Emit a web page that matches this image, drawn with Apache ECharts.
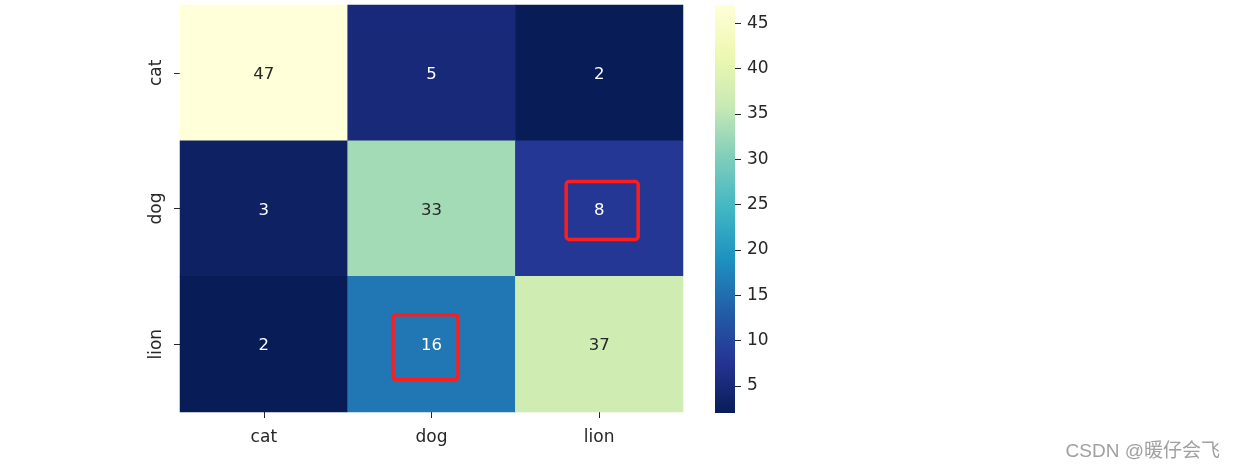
<!DOCTYPE html>
<html>
<head>
<meta charset="utf-8">
<script src="https://cdn.jsdelivr.net/npm/echarts@6/dist/echarts.min.js"></script>
<style>
html,body{margin:0;padding:0;background:#fff;}
#chart{width:1233px;height:468px;}
</style>
</head>
<body>
<div id="chart"></div>
<script>
// ---- data ----
const xCategories = ['cat', 'dog', 'lion'];
const yCategories = ['cat', 'dog', 'lion'];
const matrixRows = [
  [47, 5, 2],
  [3, 33, 8],
  [2, 16, 37]
];
const colorbarTicks = [5, 10, 15, 20, 25, 30, 35, 40, 45];
const valueMin = 2;
const valueMax = 47;
const highlightedCells = [['lion', 'dog'], ['dog', 'lion']]; // [x category, y category]
const watermarkText = 'CSDN @暖仔会飞';

// ---- styles ----
const palette = ['#081d58', '#253494', '#225ea8', '#1d91c0', '#41b6c4', '#7fcdbb', '#c7e9b4', '#edf8b1', '#ffffd9'];
const boxTweaks = [
  { dx: 3, dy: 2, w: 72, h: 58 },
  { dx: -6, dy: 3, w: 65, h: 65 }
];
const FONT = 'DejaVu Sans';
const TXT = '#262626';

const heatData = [];
matrixRows.forEach((row, i) => {
  row.forEach((v, j) => {
    heatData.push({
      value: [j, i, v],
      label: { color: v >= 25 ? TXT : '#ffffff' }
    });
  });
});

const chart = echarts.init(document.getElementById('chart'), null, { renderer: 'canvas' });

const option = {
  animation: false,
  backgroundColor: '#ffffff',
  grid: [
    { left: 180, top: 5, width: 503, height: 407 },
    { left: 715, top: 5, width: 20, height: 408 }
  ],
  xAxis: [
    {
      gridIndex: 0, type: 'category', data: xCategories, position: 'bottom',
      axisLine: { show: false },
      axisTick: { show: true, alignWithLabel: true, length: 6, lineStyle: { color: TXT } },
      axisLabel: { color: TXT, fontFamily: FONT, fontSize: 17, margin: 17 },
      splitLine: { show: false }, splitArea: { show: false }
    },
    {
      gridIndex: 1, type: 'category', data: ['cb'], show: false
    }
  ],
  yAxis: [
    {
      gridIndex: 0, type: 'category', data: yCategories, inverse: true,
      axisLine: { show: false },
      axisTick: { show: true, alignWithLabel: true, length: 6, lineStyle: { color: TXT } },
      axisLabel: { color: TXT, fontFamily: FONT, fontSize: 17, rotate: 90, margin: 15 },
      splitLine: { show: false }, splitArea: { show: false }
    },
    {
      gridIndex: 1, type: 'value', min: valueMin, max: valueMax, position: 'right',
      axisLine: { show: false },
      splitLine: { show: false },
      axisTick: { show: true, length: 6, customValues: colorbarTicks, lineStyle: { color: TXT } },
      axisLabel: { color: TXT, fontFamily: FONT, fontSize: 17, margin: 12, customValues: colorbarTicks }
    }
  ],
  visualMap: {
    show: false,
    seriesIndex: 0,
    min: valueMin,
    max: valueMax,
    dimension: 2,
    inRange: { color: palette }
  },
  graphic: [
    {
      type: 'text', right: 13, bottom: 7,
      style: { text: watermarkText, fill: '#a0a0a0', font: '19px "Liberation Sans", "Noto Sans CJK SC"' }
    }
  ],
  series: [
    {
      type: 'heatmap',
      xAxisIndex: 0, yAxisIndex: 0,
      data: heatData,
      label: { show: true, fontFamily: FONT, fontSize: 16.5, offset: [0, 2] },
      itemStyle: { borderWidth: 0 },
      emphasis: { disabled: true }
    },
    {
      type: 'bar',
      xAxisIndex: 1, yAxisIndex: 1,
      data: [valueMax],
      barWidth: '100%',
      silent: true,
      itemStyle: {
        color: new echarts.graphic.LinearGradient(0, 1, 0, 0,
          palette.map((c, i) => ({ offset: i / (palette.length - 1), color: c })))
      }
    },
    {
      type: 'custom',
      xAxisIndex: 0, yAxisIndex: 0,
      data: highlightedCells,
      silent: true,
      z: 10,
      renderItem: function (params, api) {
        const c = api.coord([api.value(0), api.value(1)]);
        const t = boxTweaks[params.dataIndex] || { dx: 0, dy: 0, w: 68, h: 60 };
        return {
          type: 'rect',
          shape: { x: c[0] + t.dx - t.w / 2, y: c[1] + t.dy - t.h / 2, width: t.w, height: t.h, r: 3 },
          style: { fill: 'none', stroke: '#ff1c1c', lineWidth: 3.5 }
        };
      }
    }
  ]
};

chart.setOption(option);
</script>
</body>
</html>
